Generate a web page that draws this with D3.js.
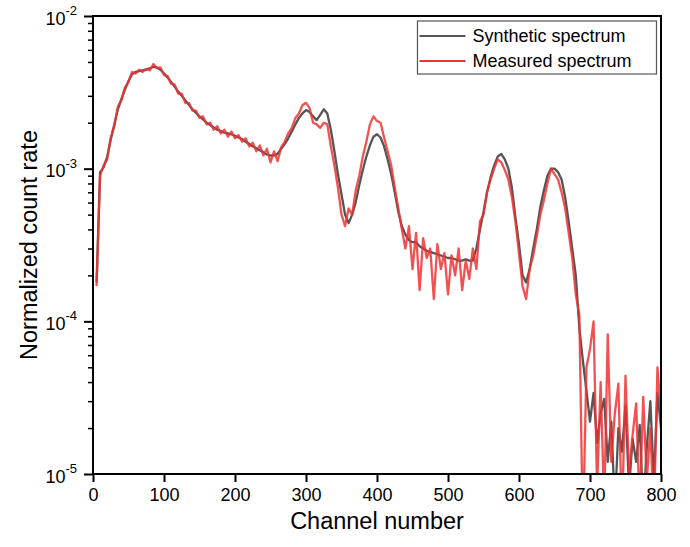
<!DOCTYPE html>
<html>
<head>
<meta charset="utf-8">
<script src="https://cdn.jsdelivr.net/npm/d3@7"></script>
<style>
  body { margin: 0; background: #fff; }
  svg { font-family: "Liberation Sans", Arial, sans-serif; }
</style>
</head>
<body>
<div id="chart"></div>
<script>
// channel numbers, one point every 5 channels
const channels = d3.range(5, 801, 5);

// normalized count rate, in units of 1e-3
const synthetic = [
  0.18, 0.95, 1.02, 1.2, 1.55, 1.95, 2.45, 2.85, 3.3, 3.75,
  4.15, 4.3, 4.35, 4.4, 4.45, 4.55, 4.65, 4.6, 4.45, 4.2,
  3.95, 3.7, 3.45, 3.2, 3.0, 2.8, 2.62, 2.45, 2.32, 2.2,
  2.1, 2.0, 1.93, 1.86, 1.8, 1.76, 1.72, 1.7, 1.68, 1.64,
  1.6, 1.56, 1.5, 1.45, 1.4, 1.36, 1.32, 1.28, 1.24, 1.22,
  1.22, 1.25, 1.35, 1.45, 1.58, 1.75, 1.95, 2.15, 2.3, 2.42,
  2.35, 2.2, 2.08, 2.25, 2.45, 2.3, 1.8, 1.3, 0.92, 0.68,
  0.5, 0.44, 0.5, 0.6, 0.78, 0.98, 1.2, 1.42, 1.62, 1.68,
  1.6, 1.4, 1.15, 0.92, 0.7, 0.52, 0.42, 0.37, 0.34, 0.33,
  0.33, 0.31, 0.3, 0.29, 0.285, 0.28, 0.275, 0.27, 0.265, 0.26,
  0.26, 0.255, 0.25, 0.25, 0.255, 0.25, 0.25, 0.3, 0.4, 0.52,
  0.7, 0.88, 1.05, 1.2, 1.25, 1.15, 1.0, 0.75, 0.48, 0.32,
  0.2, 0.18, 0.22, 0.3, 0.4, 0.56, 0.72, 0.9, 1.0, 1.0,
  0.95, 0.85, 0.65, 0.45, 0.3, 0.2, 0.09, 0.055, 0.035, 0.022,
  0.034, 0.016, 0.025, 0.031, 0.012, 0.022, 0.006, 0.02, 0.014, 0.028,
  0.008, 0.017, 0.012, 0.021, 0.006, 0.015, 0.03, 0.009, 0.034, 0.02
];

const measured = [
  0.17, 0.9, 1.05, 1.15, 1.6, 1.9, 2.55, 2.8, 3.4, 3.7,
  4.3, 4.2, 4.45, 4.3, 4.5, 4.4, 4.85, 4.55, 4.6, 4.1,
  4.05, 3.6, 3.55, 3.1, 3.1, 2.7, 2.7, 2.4, 2.4, 2.15,
  2.2, 1.95, 2.0, 1.8, 1.9, 1.7, 1.8, 1.62, 1.75, 1.58,
  1.66, 1.5, 1.58, 1.4, 1.48, 1.3, 1.42, 1.22, 1.35, 1.1,
  1.3, 1.12, 1.38, 1.5, 1.7, 1.85, 2.15, 2.3, 2.6, 2.7,
  2.5, 2.0, 1.95, 1.85, 2.0, 1.95, 1.4, 1.05, 0.75, 0.5,
  0.42, 0.55, 0.5, 0.72, 0.9, 1.2, 1.5, 1.95, 2.2, 2.05,
  2.0, 1.6, 1.3, 1.05, 0.75, 0.55, 0.4, 0.3, 0.42, 0.22,
  0.38, 0.16, 0.35, 0.26, 0.3, 0.14, 0.32, 0.22, 0.28, 0.15,
  0.27, 0.2, 0.3, 0.16, 0.25, 0.19, 0.3, 0.22, 0.45, 0.5,
  0.7, 0.85, 1.0, 1.15, 1.1, 0.98, 0.85, 0.65, 0.45, 0.28,
  0.17, 0.14, 0.22, 0.27, 0.36, 0.5, 0.62, 0.8, 1.0, 0.92,
  0.85, 0.7, 0.55, 0.38, 0.26, 0.15, 0.11, 0.004, 0.05, 0.066,
  0.1, 0.008, 0.04, 0.006, 0.082, 0.012, 0.025, 0.039, 0.005, 0.044,
  0.01, 0.018, 0.029, 0.006, 0.032, 0.009, 0.02, 0.005, 0.05, 0.025
];

const xTicks = [0, 100, 200, 300, 400, 500, 600, 700, 800];
const yDecades = [-5, -4, -3, -2];
const seriesNames = ["Synthetic spectrum", "Measured spectrum"];

const width = 690, height = 547;
const margin = {top: 16, right: 29, bottom: 73, left: 93};
const w = width - margin.left - margin.right;
const h = height - margin.top - margin.bottom;

const svg = d3.select("#chart").append("svg")
    .attr("width", width)
    .attr("height", height);

const g = svg.append("g")
    .attr("transform", `translate(${margin.left},${margin.top})`);

const x = d3.scaleLinear().domain([0, 800]).range([0, w]);
const y = d3.scaleLog().domain([1e-5, 1e-2]).range([h, 0]);

g.append("clipPath").attr("id", "clip")
  .append("rect").attr("width", w).attr("height", h);

const line = d3.line()
    .x(d => x(d[0]))
    .y(d => y(Math.max(d[1] * 1e-3, 1e-6)));

const synData = channels.map((c, i) => [c, synthetic[i]]);
const measData = channels.map((c, i) => [c, measured[i]]);

const plot = g.append("g").attr("clip-path", "url(#clip)");
plot.append("path").datum(synData)
    .attr("fill", "none").attr("stroke", "#555555")
    .attr("stroke-width", 2.3).attr("stroke-linejoin", "round")
    .attr("d", line);
plot.append("path").datum(measData)
    .attr("fill", "none").attr("stroke", "#ee3333")
    .attr("stroke-opacity", 0.85)
    .attr("stroke-width", 2.3).attr("stroke-linejoin", "round")
    .attr("d", line);

// minor y ticks
let minors = [];
yDecades.slice(0, 3).forEach(e => {
  for (let k = 2; k <= 9; k++) minors.push(k * Math.pow(10, e));
});

g.append("g")
    .call(d3.axisLeft(y).tickValues(minors).tickSize(5).tickFormat(""))
    .call(a => a.select(".domain").remove())
    .selectAll("line").attr("stroke", "#000").attr("stroke-width", 1.5);

const yAxis = g.append("g")
    .call(d3.axisLeft(y).tickValues(yDecades.map(e => Math.pow(10, e)))
      .tickSize(9).tickPadding(5).tickFormat(""));
yAxis.select(".domain").remove();
yAxis.selectAll("line").attr("stroke", "#000").attr("stroke-width", 2);
yAxis.selectAll(".tick text")
    .attr("fill", "#000")
    .attr("font-size", 18)
    .attr("dy", "0.45em")
    .attr("x", -16)
    .each(function(d) {
      const t = d3.select(this);
      t.append("tspan").text("10");
      t.append("tspan").attr("font-size", 13).attr("dy", "-0.75em")
        .text(String(Math.round(Math.log10(d))));
    });

const xAxis = g.append("g")
    .attr("transform", `translate(0,${h})`)
    .call(d3.axisBottom(x).tickValues(xTicks).tickSize(8).tickPadding(6));
xAxis.select(".domain").remove();
xAxis.selectAll("line").attr("stroke", "#000").attr("stroke-width", 2);
xAxis.selectAll("text").attr("fill", "#000").attr("font-size", 18);

// frame
g.append("rect")
    .attr("width", w).attr("height", h)
    .attr("fill", "none").attr("stroke", "#000").attr("stroke-width", 2);

// axis titles
svg.append("text")
    .attr("x", margin.left + w / 2).attr("y", 529)
    .attr("text-anchor", "middle").attr("font-size", 23.5)
    .text("Channel number");
svg.append("text")
    .attr("transform", `translate(37,${margin.top + h / 2}) rotate(-90)`)
    .attr("text-anchor", "middle").attr("font-size", 23.5)
    .text("Normalized count rate");

// legend
const legend = g.append("g").attr("transform", `translate(${x(457)},${5})`);
legend.append("rect")
    .attr("width", 239).attr("height", 53)
    .attr("fill", "#fff").attr("stroke", "#555").attr("stroke-width", 1.2);
const colors = ["#555555", "#ee3333"];
seriesNames.forEach((name, i) => {
  const row = legend.append("g").attr("transform", `translate(0,${15 + i * 25})`);
  row.append("line").attr("x1", 2).attr("x2", 48)
      .attr("stroke", colors[i]).attr("stroke-width", 2);
  row.append("text").attr("x", 55).attr("dy", "0.36em")
      .attr("font-size", 18).text(name);
});
</script>
</body>
</html>
